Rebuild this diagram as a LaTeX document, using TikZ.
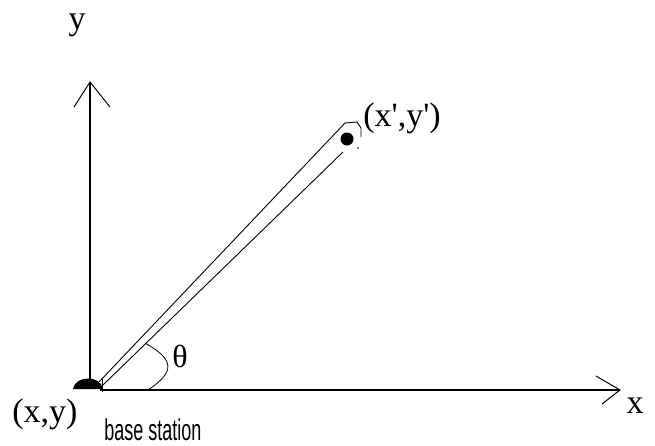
\documentclass[tikz,border=0pt]{standalone}
\usepackage{fontspec}
\setmainfont{Liberation Serif}
\newfontfamily\labelsans{Liberation Sans}
\begin{document}
\begin{tikzpicture}[x=1pt,y=-1pt,
  axis/.style={line width=1.3pt},
  tube/.style={line width=0.9pt},
  lbl/.style={font=\fontsize{34}{40}\selectfont, inner sep=0pt, anchor=base}]
\useasboundingbox (0,0) rectangle (655,445);
% axes
\coordinate (O) at (90,388);
\coordinate (Ytip) at (90,82);
\coordinate (Yl) at (74,107);
\coordinate (Yr) at (110,107);
\coordinate (Xs) at (100,390);
\coordinate (Xtip) at (620,390);
\coordinate (Xu) at (596,376);
\coordinate (Xd) at (602,404);
\draw[axis] (O) -- (Ytip);
\draw[line width=1pt] (Yl) -- (Ytip) -- (Yr);
\draw[axis] (Xs) -- (Xtip);
\draw[line width=1pt] (Xu) -- (Xtip) -- (Xd);
% base station blob
\fill (73,389) .. controls (75,375) and (101,375) .. (103,389) -- cycle;
\draw[line width=1pt] (102,378) -- (102,392);
% tube
\coordinate (A0) at (99,382);
\coordinate (A1) at (345,123);
\coordinate (B0) at (103,385);
\coordinate (B1) at (343,152);
\coordinate (C1) at (357,122);
\coordinate (C2) at (361,128);
\coordinate (C3) at (361,137);
\draw[tube] (A0) -- (A1) -- (C1) -- (C2) -- (C3);
\draw[tube] (B0) -- (B1);
\fill (358,148) circle (0.9pt);
\node[circle, fill, minimum size=13pt, inner sep=0pt] (P) at (347,139) {};
% angle arc
\coordinate (T0) at (145,343);
\coordinate (T1) at (148,390);
\draw[line width=0.8pt] (T0) .. controls (175,360) and (175,372) .. (T1);
% labels
\node[lbl] (ylab) at (77,29) {y};
\node[lbl] (xlab) at (635,413) {x};
\node[lbl] (xy) at (45,422) {(x,y)};
\node[lbl] (xyp) at (402,126) {(x\textquotesingle,y\textquotesingle)};
\node[lbl, font=\fontsize{32}{38}\selectfont] (th) at (180,367) {θ};
\node[anchor=base, inner sep=0pt] (bs) at (153,440) {\scalebox{0.6}[1]{\fontsize{30}{36}\selectfont\labelsans base station}};
\end{tikzpicture}
\end{document}
